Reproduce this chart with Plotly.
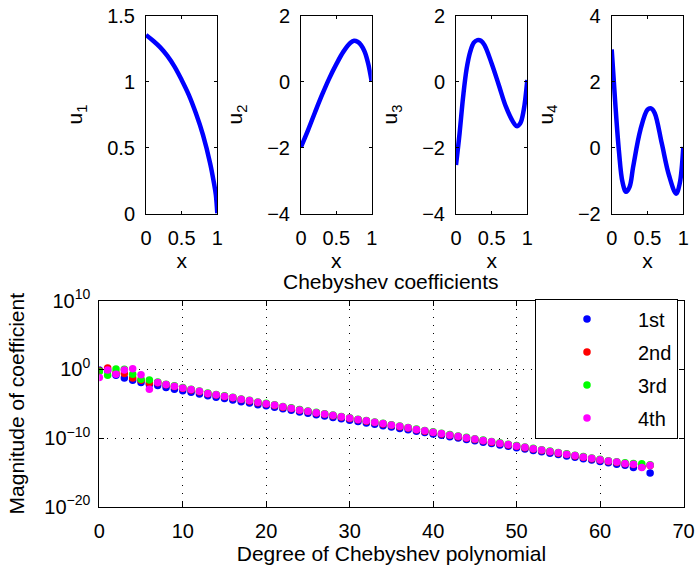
import plotly.graph_objects as go

# ---------------- data: top panels (eigenfunctions on [0,1]) ----------------
u1_x = [0, 0.1, 0.2, 0.3, 0.4, 0.5, 0.6, 0.7, 0.8, 0.9, 0.95, 0.98, 1.0]
u1_y = [1.354, 1.31, 1.26, 1.195, 1.114, 1.013, 0.90, 0.76, 0.595, 0.38, 0.24, 0.14, 0.0]

u2_x = [0, 0.1, 0.2, 0.3, 0.4, 0.5, 0.6, 0.7, 0.75, 0.8, 0.85, 0.9, 0.95, 1.0]
u2_y = [-1.98, -1.47, -0.92, -0.39, 0.10, 0.53, 0.91, 1.18, 1.24, 1.21, 1.11, 0.91, 0.55, 0.0]

u3_x = [0, 0.05, 0.1, 0.15, 0.2, 0.25, 0.3, 0.35, 0.4, 0.5, 0.6, 0.7, 0.8, 0.85, 0.9, 0.95, 1.0]
u3_y = [-2.53, -1.57, -0.46, 0.40, 0.91, 1.18, 1.26, 1.24, 1.11, 0.55, -0.10, -0.76, -1.22, -1.35, -1.27, -0.86, 0.05]

u4_x = [0, 0.05, 0.1, 0.15, 0.2, 0.25, 0.3, 0.4, 0.5, 0.55, 0.6, 0.7, 0.8, 0.9, 0.95, 1.0]
u4_y = [2.98, 1.34, -0.08, -1.04, -1.34, -1.19, -0.58, 0.53, 1.15, 1.19, 1.05, 0.12, -0.84, -1.40, -1.09, 0.02]

# ---------------- data: Chebyshev coefficient magnitudes (log10) ----------------
degrees = list(range(67))
log10_mag_1st = [-0.1, -0.15, -0.85, -1.25, -1.6, -1.9, -2.2, -2.35, -2.65, -2.9,
                 -3.1, -3.35, -3.6, -3.85, -4.05, -4.25, -4.45, -4.7, -4.9, -5.15,
                 -5.3, -5.5, -5.75, -5.95, -6.2, -6.4, -6.6, -6.8, -7.0, -7.2,
                 -7.4, -7.6, -7.8, -8.0, -8.2, -8.4, -8.6, -8.8, -9.0, -9.2,
                 -9.4, -9.6, -9.8, -10.0, -10.2, -10.4, -10.6, -10.8, -11.0, -11.2,
                 -11.4, -11.6, -11.8, -12.0, -12.2, -12.4, -12.6, -12.8, -13.0, -13.2,
                 -13.4, -13.6, -13.8, -13.95, -14.3, -14.2, -15.1]
log10_mag_2nd = [-0.2, 0.2, -0.5, -0.6, -1.25, -1.6, -2.0, -1.95, -2.25, -2.5,
                 -2.75, -3.0, -3.25, -3.55, -3.75, -3.95, -4.15, -4.4, -4.6, -4.85,
                 -5.05, -5.25, -5.5, -5.7, -5.95, -6.15, -6.35, -6.55, -6.75, -6.95,
                 -7.15, -7.35, -7.55, -7.75, -7.95, -8.15, -8.35, -8.55, -8.8, -9.0,
                 -9.2, -9.4, -9.6, -9.8, -10.0, -10.2, -10.4, -10.6, -10.8, -11.0,
                 -11.2, -11.4, -11.6, -11.8, -12.0, -12.2, -12.4, -12.6, -12.8, -13.0,
                 -13.2, -13.4, -13.55, -13.75, -13.85, -14.2, -14.0]
log10_mag_3rd = [-0.3, -0.85, 0.05, 0.0, -0.7, -1.45, -1.55, -1.85, -2.15, -2.4,
                 -2.65, -2.9, -3.15, -3.45, -3.65, -3.85, -4.05, -4.3, -4.5, -4.75,
                 -4.95, -5.15, -5.4, -5.6, -5.85, -6.05, -6.25, -6.45, -6.65, -6.85,
                 -7.05, -7.25, -7.45, -7.65, -7.85, -8.05, -8.25, -8.45, -8.7, -8.9,
                 -9.1, -9.3, -9.5, -9.7, -9.9, -10.1, -10.3, -10.5, -10.7, -10.9,
                 -11.1, -11.3, -11.5, -11.7, -11.9, -12.1, -12.3, -12.5, -12.7, -12.9,
                 -13.1, -13.3, -13.45, -13.6, -13.7, -13.75, -13.9]
log10_mag_4th = [-1.2, -0.1, -0.7, -0.1, 0.1, -0.8, -2.9, -1.9, -2.2, -2.45,
                 -2.7, -2.95, -3.2, -3.5, -3.7, -3.9, -4.1, -4.35, -4.55, -4.8,
                 -5.0, -5.2, -5.45, -5.65, -5.9, -6.1, -6.3, -6.5, -6.7, -6.9,
                 -7.1, -7.3, -7.5, -7.7, -7.9, -8.1, -8.3, -8.5, -8.75, -8.95,
                 -9.15, -9.35, -9.55, -9.75, -9.95, -10.15, -10.35, -10.55, -10.75, -10.95,
                 -11.15, -11.35, -11.55, -11.75, -11.95, -12.15, -12.35, -12.55, -12.75, -12.95,
                 -13.15, -13.35, -13.5, -13.7, -13.8, -14.3, -13.95]

series_names = ["1st", "2nd", "3rd", "4th"]
series_logs = [log10_mag_1st, log10_mag_2nd, log10_mag_3rd, log10_mag_4th]
series_colors = ["#0000ff", "#ff0000", "#00ff00", "#ff00ff"]

top_panels = [
    (u1_x, u1_y, "u<sub>1</sub>", [0, 1.5], [0, 0.5, 1, 1.5], ["0", "0.5", "1", "1.5"]),
    (u2_x, u2_y, "u<sub>2</sub>", [-4, 2], [-4, -2, 0, 2], ["\u22124", "\u22122", "0", "2"]),
    (u3_x, u3_y, "u<sub>3</sub>", [-4, 2], [-4, -2, 0, 2], ["\u22124", "\u22122", "0", "2"]),
    (u4_x, u4_y, "u<sub>4</sub>", [-2, 4], [-2, 0, 2, 4], ["\u22122", "0", "2", "4"]),
]

W, H = 695, 565
FONT = "Liberation Sans, Arial, Helvetica, sans-serif"
FS = 20
FT = 21

def px_x(a, b):
    return [a / W, b / W]

def px_y(top, bottom):
    return [1 - bottom / H, 1 - top / H]

top_xdomains = [px_x(146, 217.3), px_x(301, 371.7), px_x(456, 527.3), px_x(611.7, 683.3)]
top_ydomain = px_y(15.7, 213.5)

fig = go.Figure()
layout = dict(
    width=W, height=H,
    margin=dict(l=0, r=0, t=0, b=0, pad=0, autoexpand=False),
    paper_bgcolor="white", plot_bgcolor="white",
    font=dict(family=FONT, size=FS, color="black"),
    showlegend=True,
)

axis_common = dict(
    showline=True, linecolor="black", linewidth=1, mirror="ticks",
    ticks="inside", tickcolor="black", zeroline=False, showgrid=False,
    automargin=False, ticklabeloverflow="allow",
    tickfont=dict(family=FONT, size=FS, color="black"),
)

for i, (xs, ys, label, yr, yt, ytt) in enumerate(top_panels):
    n = i + 1
    xa = "x" if n == 1 else f"x{n}"
    ya = "y" if n == 1 else f"y{n}"
    fig.add_trace(go.Scatter(
        x=xs, y=ys, mode="lines", line=dict(color="#0000ff", width=4.5, shape="spline", smoothing=1.0),
        xaxis=xa, yaxis=ya, showlegend=False, hoverinfo="skip",
    ))
    layout[f"xaxis{'' if n == 1 else n}"] = dict(
        axis_common, domain=top_xdomains[i], anchor=ya, range=[0, 1],
        tickvals=[0, 0.5, 1], ticktext=["0", "0.5", "1"], ticklen=3,
        ticklabelstandoff=6,
        title=dict(text="x", standoff=5, font=dict(family=FONT, size=FT)),
    )
    layout[f"yaxis{'' if n == 1 else n}"] = dict(
        axis_common, domain=top_ydomain, anchor=xa, range=yr,
        tickvals=yt, ticktext=ytt, ticklen=3, ticklabelstandoff=6,
        title=dict(text=label, standoff=18, font=dict(family=FONT, size=FT)),
    )

# bottom panel
for name, logs, col in zip(series_names, series_logs, series_colors):
    fig.add_trace(go.Scatter(
        x=degrees, y=[10 ** v for v in logs], mode="markers", name=name,
        marker=dict(color=col, size=7.5, line=dict(width=0)),
        xaxis="x5", yaxis="y5", legendgroup=name,
    ))

layout["xaxis5"] = dict(
    axis_common, domain=px_x(99.3, 683.5), anchor="y5", range=[0, 70],
    tickvals=[0, 10, 20, 30, 40, 50, 60, 70], ticklen=5, ticklabelstandoff=6,
    showgrid=True, gridcolor="black", gridwidth=1, griddash="1px,7px",
    title=dict(text="Degree of Chebyshev polynomial", standoff=6, font=dict(family=FONT, size=FT)),
)
layout["yaxis5"] = dict(
    axis_common, domain=px_y(300.7, 506.7), anchor="x5", type="log", range=[-20, 10],
    tickvals=[1e-20, 1e-10, 1e0, 1e10],
    ticktext=["10<sup>\u221220</sup>", "10<sup>\u221210</sup>", "10<sup>0</sup>", "10<sup>10</sup>"],
    ticklen=5, ticklabelstandoff=4,
    showgrid=True, gridcolor="black", gridwidth=1, griddash="1px,7px",
    title=dict(text="Magnitude of coefficient", standoff=13, font=dict(family=FONT, size=FT)),
)

layout["legend"] = dict(
    x=535 / W, y=1 - 298.5 / H, xanchor="left", yanchor="top",
    bgcolor="white", bordercolor="black", borderwidth=1,
    font=dict(family=FONT, size=FS, color="black"),
    itemwidth=92, tracegroupgap=4, traceorder="grouped",
    entrywidth=44, entrywidthmode="pixels",
)

layout["annotations"] = [dict(
    text="Chebyshev coefficients", x=391 / W, y=1 - 281 / H,
    xref="paper", yref="paper", xanchor="center", yanchor="middle", showarrow=False,
    font=dict(family=FONT, size=FT, color="black"),
)]

fig.update_layout(**layout)
fig.write_html("out.html", config={"displayModeBar": False},
               post_script="document.body.style.margin='0';")
